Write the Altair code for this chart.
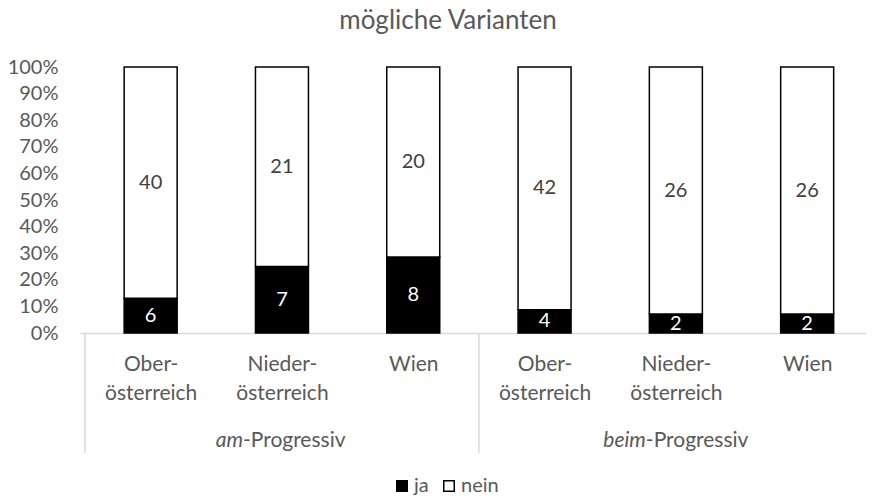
import altair as alt
import pandas as pd

# ---- data ----
regions = ["Ober-|österreich", "Nieder-|österreich", "Wien",
           "Ober-|österreich", "Nieder-|österreich", "Wien"]
groups = ["am", "am", "am", "beim", "beim", "beim"]
ja = [6, 7, 8, 4, 2, 2]
nein = [40, 21, 20, 42, 26, 26]
answers = ["ja", "nein"]
group_names = ["am", "beim"]
group_suffix = "-Progressiv"
title_text = "mögliche Varianten"
y_ticks = [0, 0.1, 0.2, 0.3, 0.4, 0.5, 0.6, 0.7, 0.8, 0.9, 1.0]

FONT = "Lato"
GREY = "#595959"
LINE = "#d9d9d9"

rows = []
for i, (r, g) in enumerate(zip(regions, groups)):
    rows.append({"idx": i, "region": r, "group": g, "answer": "ja", "order": 0, "value": ja[i]})
    rows.append({"idx": i, "region": r, "group": g, "answer": "nein", "order": 1, "value": nein[i]})
df = pd.DataFrame(rows)

label_js = "[" + ",".join("'" + r + "'" for r in regions) + "]"

xscale = alt.Scale(domain=[-0.5, 5.41], nice=False, zero=False)
yscale = alt.Scale(domain=[0, 1], nice=False)

x_axis = alt.Axis(values=list(range(len(regions))), title=None,
                  labelExpr="split(" + label_js + "[datum.value], '|')",
                  ticks=False, tickSize=0, grid=False,
                  domainColor=LINE, domainWidth=1.5,
                  labelFont=FONT, labelFontSize=21, labelColor=GREY,
                  labelBaseline="top", labelPadding=20, labelLineHeight=29,
                  labelFlush=False, labelOverlap=False)
y_axis = alt.Axis(values=y_ticks, format=".0%", title=None,
                  domain=False, ticks=False, grid=False,
                  labelOverlap=False, labelBound=False,
                  labelFont=FONT, labelFontSize=20, labelColor=GREY,
                  labelPadding=22)

base = alt.Chart(df).transform_stack(
    stack="value", groupby=["idx"], as_=["v0", "v1"], offset="normalize",
    sort=[alt.SortField("order", "ascending")]
).transform_calculate(mid="(datum.v0 + datum.v1) / 2")

bars = base.mark_bar(width=53, stroke="black", strokeWidth=1.5).encode(
    x=alt.X("idx:Q", scale=xscale, axis=x_axis),
    y=alt.Y("v0:Q", scale=yscale, axis=y_axis),
    y2="v1:Q",
    color=alt.Color("answer:N", scale=alt.Scale(domain=answers, range=["#000000", "#ffffff"]),
                    legend=alt.Legend(title=None, orient="none", direction="horizontal",
                                      legendX=312, legendY=409,
                                      symbolType="square", symbolSize=110,
                                      symbolStrokeColor="black", symbolStrokeWidth=1.5,
                                      labelFont=FONT, labelFontSize=20, labelColor=GREY,
                                      labelOffset=2, columnPadding=10, padding=0)),
)

labels = base.mark_text(font=FONT, fontSize=20).encode(
    x=alt.X("idx:Q", scale=xscale, axis=x_axis),
    y=alt.Y("mid:Q", scale=yscale, axis=y_axis),
    text="value:Q",
    color=alt.Color("answer:N", scale=alt.Scale(domain=answers, range=["#ffffff", "#404040"]),
                    legend=None),
)

sep_df = pd.DataFrame({"pos": [-0.5, 2.5]})
seps = alt.Chart(sep_df).mark_rule(color=LINE, strokeWidth=1.5).encode(
    x=alt.X("pos:Q", scale=xscale, axis=x_axis),
    y=alt.value(266), y2=alt.value(386),
)

grp_df = pd.DataFrame({"g": group_names, "center": [1, 4],
                       "suffix": [group_suffix, group_suffix]})
gtext = []
for gname, dx in [("am", -39), ("beim", -30)]:
    ch = alt.Chart(grp_df[grp_df.g == gname])
    gtext.append(ch.mark_text(font=FONT, fontSize=21, fontStyle="italic", color=GREY,
                              align="right", baseline="middle", dx=dx).encode(
        x=alt.X("center:Q", scale=xscale, axis=x_axis), y=alt.value(374), text="g:N"))
    gtext.append(ch.mark_text(font=FONT, fontSize=21, color=GREY,
                              align="left", baseline="middle", dx=dx).encode(
        x=alt.X("center:Q", scale=xscale, axis=x_axis), y=alt.value(374), text="suffix:N"))

title = alt.Chart(pd.DataFrame({"t": [title_text]})).mark_text(
    font=FONT, fontSize=26, color=GREY, align="center", baseline="alphabetic"
).encode(x=alt.value(368), y=alt.value(-38), text="t:N")

chart = alt.layer(bars, labels, seps, *gtext, title).resolve_scale(color="independent").properties(
    width=786, height=266,
    autosize=alt.AutoSizeParams(type="none"),
    padding={"left": 72, "top": 59, "right": 0, "bottom": 165},
).configure_view(stroke=None)

chart.save("out.html", embed_options={"renderer": "svg", "actions": False})
